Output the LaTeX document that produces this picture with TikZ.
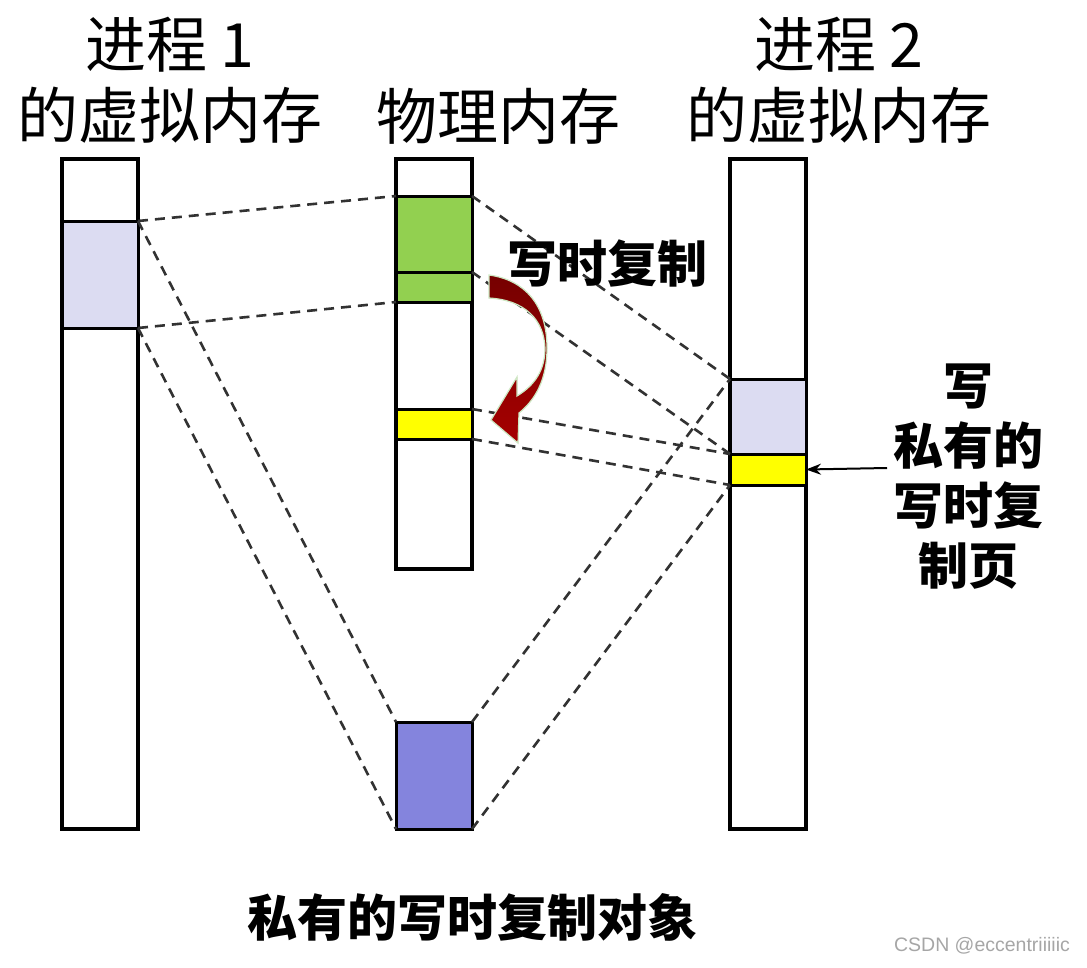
\documentclass[tikz,border=0pt]{standalone}
\usepackage{fontspec}
\usetikzlibrary{arrows.meta}
\newfontfamily\cjk{Noto Sans CJK SC}
\newfontfamily\wmfont{Liberation Sans}
\definecolor{lav}{RGB}{220,220,242}
\definecolor{grn}{RGB}{146,208,80}
\definecolor{yel}{RGB}{255,255,0}
\definecolor{blu}{RGB}{132,132,221}
\definecolor{dash}{RGB}{50,50,50}
\definecolor{arrtop}{RGB}{118,0,0}
\definecolor{arrbot}{RGB}{165,0,0}
\definecolor{glow}{RGB}{205,232,195}
\tikzset{
  col/.style={draw=black, line width=3.4pt, fill=white, inner sep=0pt, outer sep=0pt, anchor=north west, minimum width=76pt},
  blk/.style={draw=black, line width=3pt, inner sep=0pt, outer sep=0pt, anchor=north west, minimum width=76pt},
  map/.style={draw=dash, line width=2.6pt, dash pattern=on 10pt off 7pt},
  title/.style={font=\cjk\fontsize{61}{71}\selectfont, align=center, inner sep=0pt},
  lbl/.style={font=\cjk\bfseries\fontsize{50}{60}\selectfont, align=center, inner sep=0pt},
}
\begin{document}
\begin{tikzpicture}[x=1pt,y=-1pt]
\useasboundingbox[fill=white] (0,0) rectangle (1087,967);
% columns
\node[col, minimum height=670pt] (V1) at (62,159) {};
\node[col, minimum height=410pt] (PM) at (396,159) {};
\node[col, minimum height=670pt] (V2) at (730,159) {};
% blocks
\node[blk, fill=lav, minimum height=107pt] (L1) at (62,221) {};
\node[blk, fill=grn, minimum height=76pt] (P1) at (396,196) {};
\node[blk, fill=grn, minimum height=30pt] (P2) at (396,272) {};
\node[blk, fill=yel, minimum height=30pt] (Y1) at (396,409) {};
\node[blk, fill=blu, minimum height=107pt] (B) at (396,722) {};
\node[blk, fill=lav, minimum height=75pt] (R1) at (730,379) {};
\node[blk, fill=yel, minimum height=31pt] (R2) at (730,454) {};
% mappings
\draw[map] (L1.north east) -- (P1.north west);
\draw[map] (L1.south east) -- (P2.south west);
\draw[map] (L1.north east) -- (B.north west);
\draw[map] (L1.south east) -- (B.south west);
\draw[map] (P1.north east) -- (R1.north west);
\draw[map] (P1.south east) -- (R1.south west);
\draw[map] (Y1.north east) -- (R2.north west);
\draw[map] (Y1.south east) -- (R2.south west);
\draw[map] (B.north east) -- (R1.north west);
\draw[map] (B.south east) -- (R2.south west);
% curved arrow
\shadedraw[top color=arrtop, bottom color=arrbot, draw=glow, line width=1.2pt]
  (489,275) .. controls (525,280) and (547,305) .. (547,348)
  .. controls (547,380) and (535,400) .. (519,413)
  -- (518,443) -- (491,420) -- (517,377) -- (517,396)
  .. controls (535,385) and (545,370) .. (545,348)
  .. controls (544,320) and (525,300) .. (489,298) -- cycle;
% titles
\node[title] (T1) at (170,80) {进程 1\\的虚拟内存};
\node[title] (T2) at (498,116) {物理内存};
\node[title] (T3) at (839,80) {进程 2\\的虚拟内存};
\node[lbl] (COW) at (607,263) {写时复制};
\node[lbl] (PRIV) at (968,477) {写\\私有的\\写时复\\制页};
\node[lbl] (BOT) at (472,917) {私有的写时复制对象};
\node[font=\wmfont\fontsize{19.5}{22}\selectfont, text=gray!70, inner sep=0pt] (WM) at (982,946) {CSDN @eccentriiiiic};
% pointer arrow
\coordinate (AS) at (887,468);
\draw[-{Stealth[length=15pt,width=11pt]}, line width=2pt] (AS) -- (R2.east);
\end{tikzpicture}
\end{document}
